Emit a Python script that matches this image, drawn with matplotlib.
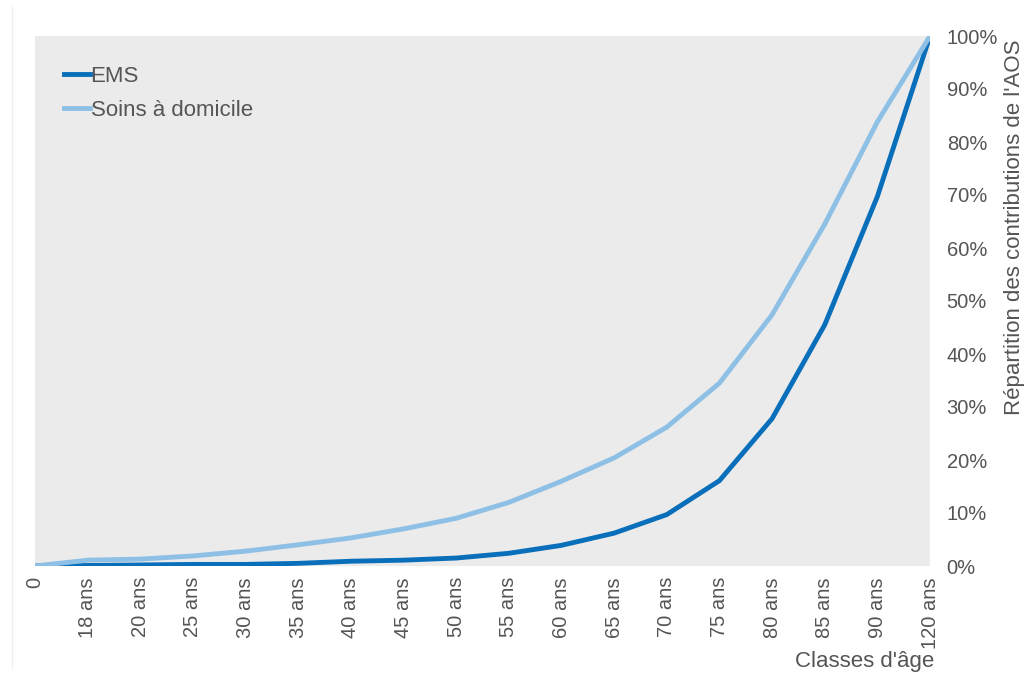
import matplotlib
matplotlib.use("Agg")
import matplotlib.pyplot as plt
from matplotlib.ticker import PercentFormatter

plt.rcParams['font.family'] = ['Liberation Sans', 'DejaVu Sans']

classes = ["0", "18 ans", "20 ans", "25 ans", "30 ans", "35 ans", "40 ans", "45 ans",
           "50 ans", "55 ans", "60 ans", "65 ans", "70 ans", "75 ans", "80 ans",
           "85 ans", "90 ans", "120 ans"]
ems = [0.0, 0.1, 0.2, 0.3, 0.3, 0.5, 0.9, 1.1, 1.5, 2.4, 3.9, 6.2, 9.7, 16.1,
       27.8, 45.5, 69.7, 100.0]
soins = [0.0, 1.1, 1.3, 1.9, 2.8, 4.0, 5.3, 7.0, 9.0, 12.0, 16.0, 20.4, 26.2,
         34.5, 47.4, 64.5, 83.8, 100.0]
y_ticks = [0, 10, 20, 30, 40, 50, 60, 70, 80, 90, 100]

text_color = "#555555"
fig = plt.figure(figsize=(10.28, 6.75), dpi=100)
ax = fig.add_axes([35 / 1028, 1 - 566 / 675, (930 - 35) / 1028, (566 - 36) / 675])
ax.set_facecolor("#ebebeb")

x = list(range(len(classes)))
ax.plot(x, ems, color="#0a6fba", lw=3.5, label="EMS", solid_joinstyle="round")
ax.plot(x, soins, color="#8ec0e6", lw=3.5, label="Soins à domicile", solid_joinstyle="round")

ax.set_xlim(0, len(classes) - 1)
ax.set_ylim(0, 100)
ax.set_xticks(x)
ax.set_xticklabels(classes, rotation=90, fontsize=14.5, color=text_color)
ax.yaxis.tick_right()
ax.yaxis.set_label_position("right")
ax.set_yticks(y_ticks)
ax.yaxis.set_major_formatter(PercentFormatter(decimals=0))
ax.tick_params(axis="y", labelsize=14.5, labelcolor=text_color, length=0, pad=12)
ax.tick_params(axis="x", length=0, pad=8)
ax.set_ylabel("Répartition des contributions de l'AOS", fontsize=16, color=text_color,
              labelpad=4)
ax.yaxis.label.set_y(0.64)
for s in ax.spines.values():
    s.set_visible(False)

ax.set_xlabel("Classes d'âge", fontsize=16, color=text_color, loc="right", labelpad=2)
ax.xaxis.label.set_x(1.005)

leg = ax.legend(loc="upper left", bbox_to_anchor=(0.01, 0.982), frameon=False,
                fontsize=16, handlelength=1.15, handletextpad=0.05,
                labelspacing=0.6)
for t in leg.get_texts():
    t.set_color(text_color)

fig.add_artist(plt.Line2D([12 / 1028, 12 / 1028], [0.01, 0.99], color="#f0f0f0", lw=1))
fig.savefig("out.png", dpi=100, facecolor="white")
